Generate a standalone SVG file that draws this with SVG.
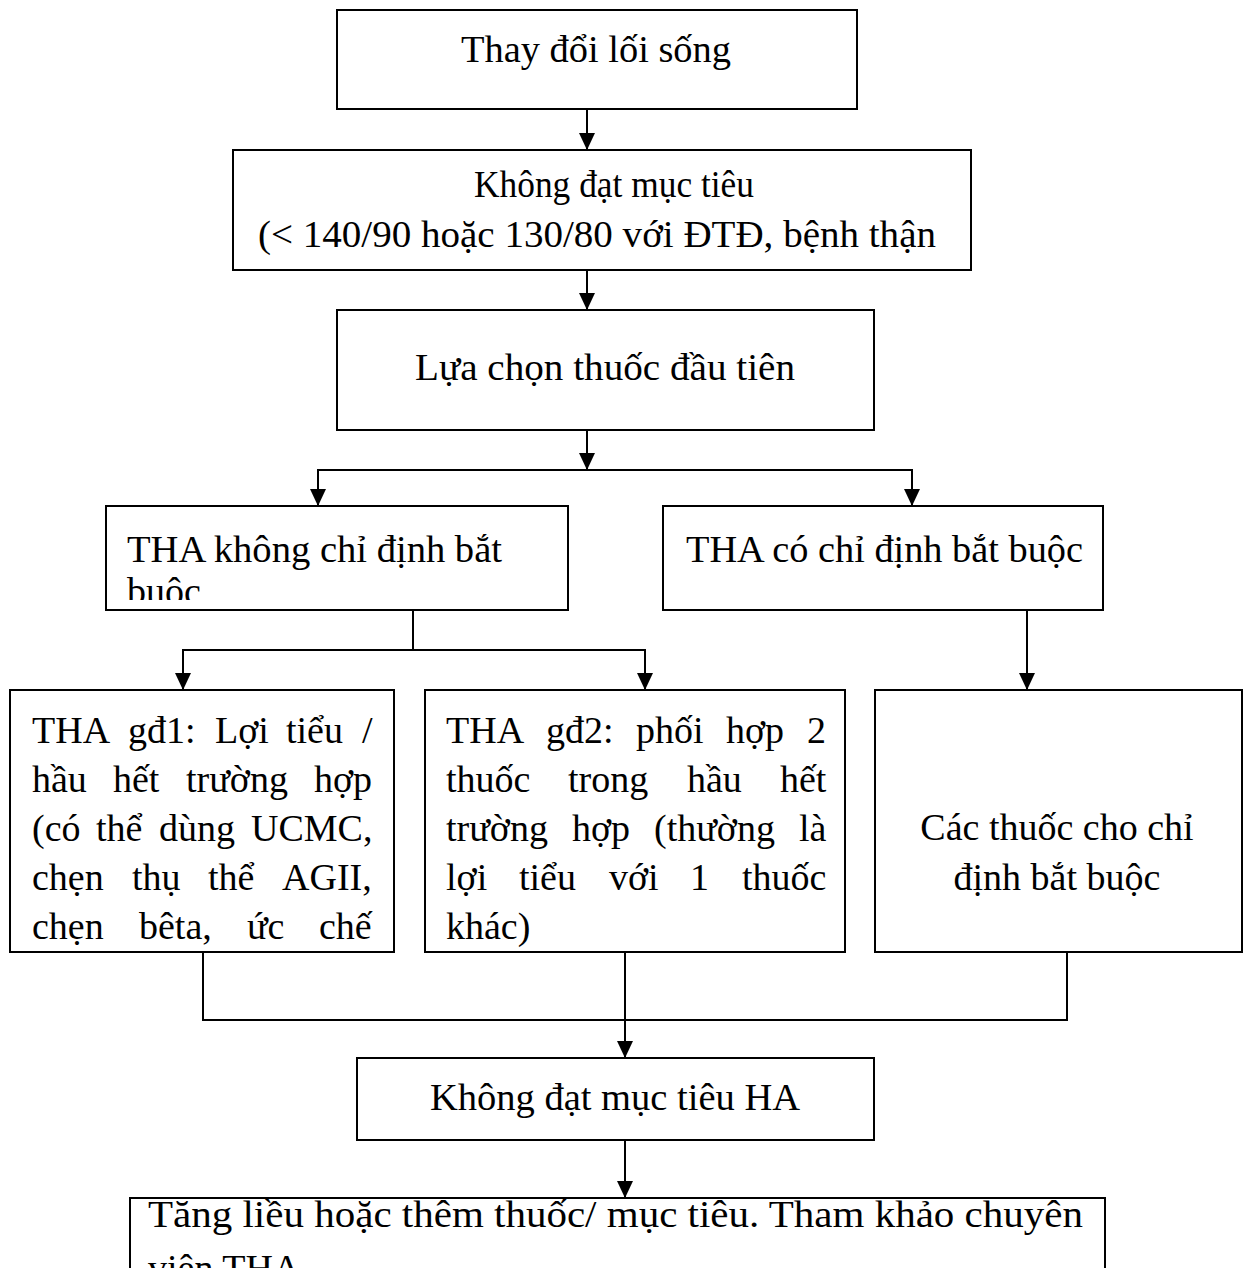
<svg xmlns="http://www.w3.org/2000/svg" width="1245" height="1268" viewBox="0 0 1245 1268">
  <style>
    .box { fill: #ffffff; stroke: #000000; stroke-width: 2; }
    .t { font-family: "Liberation Serif", "Times New Roman", serif; font-size: 38px; fill: #000000; }
    .c { text-anchor: middle; }
    .wire { fill: none; stroke: #000000; stroke-width: 2; }
    .head { fill: #000000; }
  </style>
  <defs>
    <!-- downward arrowhead, tip at (0,0) -->
    <path id="ah" d="M-8,-17 H8 L0,0 Z"/>
    <clipPath id="clip-n4"><rect x="107" y="507" width="460" height="93"/></clipPath>
  </defs>

  <rect width="1245" height="1268" fill="#ffffff"/>

  <!-- connectors -->
  <g id="connectors">
    <path class="wire" d="M587,109 V150"/>
    <path class="wire" d="M587,270 V310"/>
    <path class="wire" d="M587,430 V470"/>
    <path class="wire" d="M318,506 V470 H912 V506"/>
    <path class="wire" d="M413,610 V650"/>
    <path class="wire" d="M183,690 V650 H645 V690"/>
    <path class="wire" d="M1027,610 V690"/>
    <path class="wire" d="M203,952 V1020 H1067 V952"/>
    <path class="wire" d="M625,952 V1058"/>
    <path class="wire" d="M625,1140 V1198"/>
    <g class="head">
      <use href="#ah" x="587" y="150"/>
      <use href="#ah" x="587" y="310"/>
      <use href="#ah" x="587" y="470"/>
      <use href="#ah" x="318" y="506"/>
      <use href="#ah" x="912" y="506"/>
      <use href="#ah" x="183" y="690"/>
      <use href="#ah" x="645" y="690"/>
      <use href="#ah" x="1027" y="690"/>
      <use href="#ah" x="625" y="1058"/>
      <use href="#ah" x="625" y="1198"/>
    </g>
  </g>

  <g id="n1">
    <rect class="box" x="337" y="10" width="520" height="99"/>
    <text class="t" x="461" y="62" textLength="270" lengthAdjust="spacingAndGlyphs">Thay đổi lối sống</text>
  </g>

  <g id="n2">
    <rect class="box" x="233" y="150" width="738" height="120"/>
    <text class="t" x="474" y="197" textLength="280" lengthAdjust="spacingAndGlyphs">Không đạt mục tiêu</text>
    <text class="t" x="258" y="247" textLength="678" lengthAdjust="spacingAndGlyphs">(&lt; 140/90 hoặc 130/80 với ĐTĐ, bệnh thận</text>
  </g>

  <g id="n3">
    <rect class="box" x="337" y="310" width="537" height="120"/>
    <text class="t" x="415" y="380" textLength="380" lengthAdjust="spacingAndGlyphs">Lựa chọn thuốc đầu tiên</text>
  </g>

  <g id="n4">
    <rect class="box" x="106" y="506" width="462" height="104"/>
    <g clip-path="url(#clip-n4)">
      <text class="t" x="127" y="562" textLength="375" lengthAdjust="spacingAndGlyphs">THA không chỉ định bắt</text>
      <text class="t" x="127" y="604">buộc</text>
    </g>
  </g>

  <g id="n5">
    <rect class="box" x="663" y="506" width="440" height="104"/>
    <text class="t" x="686" y="562" textLength="397" lengthAdjust="spacingAndGlyphs">THA có chỉ định bắt buộc</text>
  </g>

  <!-- justified paragraph: each word placed on its own x -->
  <g id="n6">
    <rect class="box" x="10" y="690" width="384" height="262"/>
    <text class="t" y="743"><tspan x="32">THA</tspan><tspan x="128">gđ1:</tspan><tspan x="215">Lợi</tspan><tspan x="286">tiểu</tspan><tspan x="362">/</tspan></text>
    <text class="t" y="792"><tspan x="32">hầu</tspan><tspan x="113">hết</tspan><tspan x="186">trường</tspan><tspan x="314">hợp</tspan></text>
    <text class="t" y="841"><tspan x="32">(có</tspan><tspan x="96">thể</tspan><tspan x="159">dùng</tspan><tspan x="251">UCMC,</tspan></text>
    <text class="t" y="890"><tspan x="32">chẹn</tspan><tspan x="132">thụ</tspan><tspan x="208">thể</tspan><tspan x="282">AGII,</tspan></text>
    <text class="t" y="939"><tspan x="32">chẹn</tspan><tspan x="139">bêta,</tspan><tspan x="247">ức</tspan><tspan x="319">chế</tspan></text>
  </g>

  <g id="n7">
    <rect class="box" x="425" y="690" width="420" height="262"/>
    <text class="t" y="743"><tspan x="446">THA</tspan><tspan x="546">gđ2:</tspan><tspan x="636">phối</tspan><tspan x="726">hợp</tspan><tspan x="807">2</tspan></text>
    <text class="t" y="792"><tspan x="446">thuốc</tspan><tspan x="568">trong</tspan><tspan x="687">hầu</tspan><tspan x="780">hết</tspan></text>
    <text class="t" y="841"><tspan x="446">trường</tspan><tspan x="572">hợp</tspan><tspan x="654">(thường</tspan><tspan x="799">là</tspan></text>
    <text class="t" y="890"><tspan x="446">lợi</tspan><tspan x="519">tiểu</tspan><tspan x="609">với</tspan><tspan x="690">1</tspan><tspan x="742">thuốc</tspan></text>
    <text class="t" x="446" y="939">khác)</text>
  </g>

  <g id="n8">
    <rect class="box" x="875" y="690" width="367" height="262"/>
    <text class="t c" x="1057" y="840">Các thuốc cho chỉ</text>
    <text class="t c" x="1057" y="890">định bắt buộc</text>
  </g>

  <g id="n9">
    <rect class="box" x="357" y="1058" width="517" height="82"/>
    <text class="t" x="430" y="1110" textLength="370" lengthAdjust="spacingAndGlyphs">Không đạt mục tiêu HA</text>
  </g>

  <g id="n10">
    <rect class="box" x="130" y="1198" width="975" height="100"/>
    <text class="t" x="148" y="1227" textLength="935" lengthAdjust="spacingAndGlyphs">Tăng liều hoặc thêm thuốc/ mục tiêu. Tham khảo chuyên</text>
    <text class="t" x="148" y="1281">viên THA</text>
  </g>
</svg>
